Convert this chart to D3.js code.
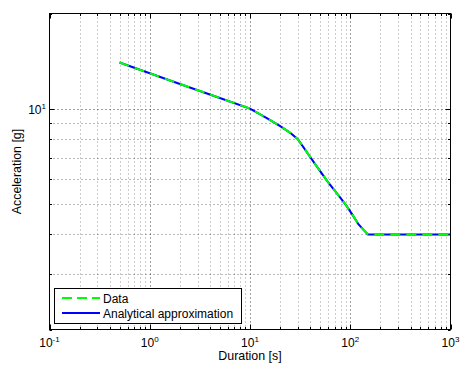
<!DOCTYPE html>
<html>
<head>
<meta charset="utf-8">
<script src="https://cdn.jsdelivr.net/npm/d3@7"></script>
<style>
  html, body { margin: 0; padding: 0; background: #fff; }
  svg { display: block; font-family: "Liberation Sans", Arial, Helvetica, sans-serif; }
</style>
</head>
<body>
<svg id="chart" width="460" height="365"></svg>
<script>
// Tolerance curve: duration [s] vs acceleration [g]
const durationData = [0.5, 1, 2, 5, 10, 15, 20, 25, 30, 45, 60, 75, 90, 105, 120, 135, 150, 200, 300, 500, 1000];
const accelData    = [14, 12.94, 11.96, 10.81, 10, 9.3, 8.8, 8.4, 8.0, 6.65, 5.85, 5.35, 4.97, 4.62, 4.32, 4.14, 4.0, 4.0, 4.0, 4.0, 4.0];

const durationApprox = [0.5, 1, 2, 5, 10, 15, 20, 25, 30, 45, 60, 75, 90, 105, 120, 135, 150, 200, 300, 500, 1000];
const accelApprox    = [14, 12.94, 11.96, 10.81, 10, 9.3, 8.8, 8.4, 8.0, 6.65, 5.85, 5.35, 4.97, 4.62, 4.32, 4.14, 4.0, 4.0, 4.0, 4.0, 4.0];

const xDomain = [0.1, 1000];
const yDomain = [2, 20];
const xTickValues = [0.1, 1, 10, 100, 1000];
const xTickExponents = ["-1", "0", "1", "2", "3"];
const yTickValues = [10];
const yTickExponents = ["1"];
const seriesNames = ["Data", "Analytical approximation"];
const xLabel = "Duration [s]";
const yLabel = "Acceleration [g]";

const svg = d3.select("#chart");
const plotL = 49.5, plotR = 450.5, plotT = 13.5, plotB = 329.5;

const x = d3.scaleLog().domain(xDomain).range([plotL, plotR]);
const y = d3.scaleLog().domain(yDomain).range([plotB, plotT]);

// minor + major positions inside each decade
function logPositions(domain) {
  const out = [];
  const lo = Math.floor(Math.log10(domain[0])), hi = Math.ceil(Math.log10(domain[1]));
  for (let e = lo; e <= hi; e++) {
    for (let m = 1; m <= 9; m++) {
      const v = m * Math.pow(10, e);
      if (v >= domain[0] * 0.9999 && v <= domain[1] * 1.0001) out.push({ v, major: m === 1 });
    }
  }
  return out;
}
const xPos = logPositions(xDomain);
const yPos = logPositions(yDomain);

// grid
const grid = svg.append("g");
grid.selectAll("line.vx").data(xPos.filter(d => x(d.v) > plotL + 1 && x(d.v) < plotR - 1)).join("line")
  .attr("x1", d => Math.round(x(d.v)) + 0.5).attr("x2", d => Math.round(x(d.v)) + 0.5)
  .attr("y1", plotT).attr("y2", plotB)
  .attr("stroke", "#000").attr("stroke-opacity", d => d.major ? 0.75 : 0.4)
  .attr("stroke-dasharray", "1,3");
grid.selectAll("line.hy").data(yPos.filter(d => y(d.v) > plotT + 1 && y(d.v) < plotB - 1)).join("line")
  .attr("y1", d => Math.round(y(d.v)) + 0.5).attr("y2", d => Math.round(y(d.v)) + 0.5)
  .attr("x1", plotL).attr("x2", plotR)
  .attr("stroke", "#000").attr("stroke-opacity", d => d.major ? 0.75 : 0.55)
  .attr("stroke-dasharray", "1,3");

// ticks on all four sides, pointing inward
const ticks = svg.append("g").attr("stroke", "#000").attr("stroke-width", 1);
xPos.forEach(d => {
  const px = Math.round(x(d.v)) + 0.5, len = d.major ? 5 : 2.5;
  ticks.append("line").attr("x1", px).attr("x2", px).attr("y1", plotB).attr("y2", plotB - len);
  ticks.append("line").attr("x1", px).attr("x2", px).attr("y1", plotT).attr("y2", plotT + len);
});
yPos.forEach(d => {
  const py = Math.round(y(d.v)) + 0.5, len = d.major ? 5 : 2.5;
  ticks.append("line").attr("y1", py).attr("y2", py).attr("x1", plotL).attr("x2", plotL + len);
  ticks.append("line").attr("y1", py).attr("y2", py).attr("x1", plotR).attr("x2", plotR - len);
});

// curves: approximation underneath, dashed data on top
const line = d3.line().x(d => x(d[0])).y(d => y(d[1]));
const approxPts = durationApprox.map((t, i) => [t, accelApprox[i]]);
const dataPts = durationData.map((t, i) => [t, accelData[i]]);
svg.append("path").attr("d", line(approxPts))
  .attr("fill", "none").attr("stroke", "#0000ff").attr("stroke-width", 2);
svg.append("path").attr("d", line(dataPts))
  .attr("fill", "none").attr("stroke", "#00ff00").attr("stroke-width", 2)
  .attr("stroke-dasharray", "10,6");

// axes box
svg.append("rect").attr("x", plotL).attr("y", plotT)
  .attr("width", plotR - plotL).attr("height", plotB - plotT)
  .attr("fill", "none").attr("stroke", "#000").attr("stroke-width", 1);

// tick labels (10^n)
const lbl = svg.append("g").attr("font-size", 12).attr("fill", "#000");
xTickValues.forEach((v, i) => {
  const t = lbl.append("text").attr("x", x(v)).attr("y", 347).attr("text-anchor", "middle");
  t.append("tspan").text("10");
  t.append("tspan").attr("font-size", 8).attr("dy", -5).text(xTickExponents[i]);
});
yTickValues.forEach((v, i) => {
  const t = lbl.append("text").attr("x", 46).attr("y", y(v) + 5).attr("text-anchor", "end");
  t.append("tspan").text("10");
  t.append("tspan").attr("font-size", 8).attr("dy", -5).text(yTickExponents[i]);
});

// axis labels
svg.append("text").attr("x", (plotL + plotR) / 2).attr("y", 360)
  .attr("text-anchor", "middle").attr("font-size", 12.4).text(xLabel);
svg.append("text").attr("transform", `translate(21,${(plotT + plotB) / 2}) rotate(-90)`)
  .attr("text-anchor", "middle").attr("font-size", 12.4).text(yLabel);

// legend
const lg = svg.append("g");
lg.append("rect").attr("x", 54.5).attr("y", 288.5).attr("width", 187).attr("height", 35)
  .attr("fill", "#fff").attr("stroke", "#000").attr("stroke-width", 1);
const legendStyles = [
  { color: "#00ff00", dash: "10,5" },
  { color: "#0000ff", dash: null }
];
seriesNames.forEach((name, i) => {
  const ly = 298 + i * 15;
  lg.append("line").attr("x1", 62).attr("x2", 100).attr("y1", ly).attr("y2", ly)
    .attr("stroke", legendStyles[i].color).attr("stroke-width", 2)
    .attr("stroke-dasharray", legendStyles[i].dash);
  lg.append("text").attr("x", 103).attr("y", ly + 4.5).attr("font-size", 12).text(name);
});
</script>
</body>
</html>
